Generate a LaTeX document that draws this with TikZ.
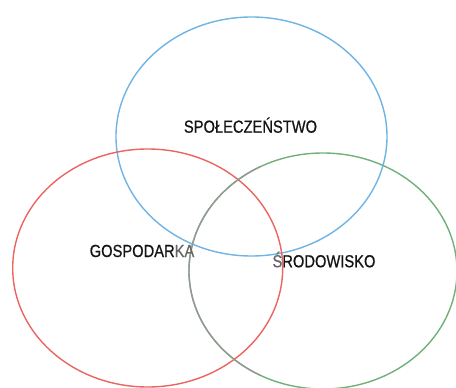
\documentclass[tikz,border=0pt]{standalone}
\usepackage{fontspec}
\setmainfont{Liberation Sans}[FakeStretch=0.84,FakeBold=0.6]
\usetikzlibrary{calc}
\definecolor{cblue}{RGB}{110,180,228}
\definecolor{cred}{RGB}{234,100,96}
\definecolor{cgreen}{RGB}{112,176,122}
\definecolor{cgray}{RGB}{150,152,150}
\definecolor{ctext}{RGB}{20,20,20}
\tikzset{
  ring/.style={line width=1.4pt},
  lbl/.style={anchor=base, inner sep=0pt, text=ctext, font=\fontsize{17.5}{18}\selectfont}
}
\begin{document}
\begin{tikzpicture}[x=1pt,y=-1pt]
\useasboundingbox (0,0) rectangle (456,388);
\coordinate (spol) at (251.5,136.5);
\coordinate (gosp) at (147.7,268);
\coordinate (srod) at (323,271);
\draw[ring, cblue] (spol) ellipse[x radius=135.5, y radius=119.5];
\draw[ring, cred] (gosp) ellipse[x radius=135, y radius=119];
\draw[ring, cgreen] (srod) ellipse[x radius=134, y radius=118];
\draw[ring, cgray] ($(srod)+(118:134 and 118)$) arc[start angle=118, end angle=242, x radius=134, y radius=118];
\node[lbl] (tspol) at (250.5,132.7) {SPOŁECZEŃSTWO};
\node[lbl] (tgosp) at (142,257) {GOSPODAR{\color{ctext!65}KA}};
\node[lbl] (tsrod) at (324,267.3) {{\color{ctext!65}Ś}RODOWISKO};
\end{tikzpicture}
\end{document}
